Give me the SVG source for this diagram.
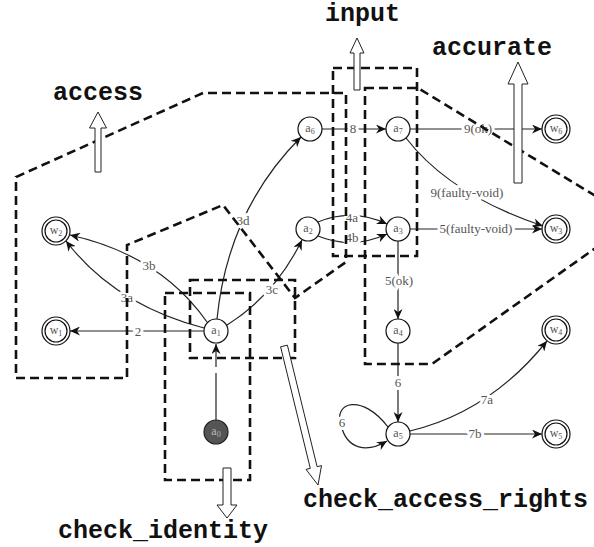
<svg xmlns="http://www.w3.org/2000/svg" width="594" height="547" viewBox="0 0 594 547">
<style>
.node{fill:#fff;stroke:#111;stroke-width:1.2}
.start{fill:#555;stroke:#222;stroke-width:1.2}
.nl{font-family:"Liberation Serif",serif;font-size:12px;fill:#555;text-anchor:middle}
.nls{fill:#bbb}
.edge{fill:none;stroke:#222;stroke-width:1.2}
.el{font-family:"Liberation Serif",serif;font-size:13px;fill:#555;text-anchor:middle;stroke:#fff;stroke-width:6;stroke-linejoin:round;paint-order:stroke}
.region{fill:none;stroke:#111;stroke-width:2.6;stroke-dasharray:9 5}
.hollow{fill:#fff;stroke:#222;stroke-width:1}
.title{font-family:"Liberation Mono","Courier New",monospace;font-weight:bold;font-size:25px;fill:#111}
</style>
<defs>
<marker id="arr" markerUnits="userSpaceOnUse" markerWidth="11" markerHeight="9" refX="10" refY="4.5" orient="auto">
<path d="M0,0 L10,4.5 L0,9 L3,4.5 Z" fill="#111"/>
</marker>
</defs>

<g id="connectors">
<path class="edge" d="M216,420 L216,373" />
<path class="edge" d="M216,367 L216,344" marker-end="url(#arr)"/>
<path class="edge" d="M204,331 L70,331" marker-end="url(#arr)"/>
<text class="el" x="138" y="336">2</text>
<path class="edge" d="M204,328 Q115,305 66,241" marker-end="url(#arr)"/>
<text class="el" x="127" y="302">3a</text>
<path class="edge" d="M207,322 Q160,255 70,235" marker-end="url(#arr)"/>
<text class="el" x="149" y="270">3b</text>
<path class="edge" d="M227,325 Q275,295 302,240" marker-end="url(#arr)"/>
<text class="el" x="272" y="294">3c</text>
<path class="edge" d="M217,319 Q228,210 301,137" marker-end="url(#arr)"/>
<text class="el" x="243" y="225">3d</text>
<path class="edge" d="M322,129 L386,129" marker-end="url(#arr)"/>
<text class="el" x="353" y="133">8</text>
<path class="edge" d="M410,129 L542,129" marker-end="url(#arr)"/>
<text class="el" x="478" y="133">9(ok)</text>
<path class="edge" d="M406,138 Q450,195 543,226" marker-end="url(#arr)"/>
<text class="el" x="467" y="197">9(faulty-void)</text>
<path class="edge" d="M318,222 Q352,208 387,224" marker-end="url(#arr)"/>
<text class="el" x="352" y="222">4a</text>
<path class="edge" d="M318,236 Q352,250 387,234" marker-end="url(#arr)"/>
<text class="el" x="352" y="242">4b</text>
<path class="edge" d="M410,229 L542,229" marker-end="url(#arr)"/>
<text class="el" x="476" y="233">5(faulty-void)</text>
<path class="edge" d="M398,241 L398,319" marker-end="url(#arr)"/>
<text class="el" x="399" y="285">5(ok)</text>
<path class="edge" d="M398,343 L398,422" marker-end="url(#arr)"/>
<text class="el" x="398" y="387">6</text>
<path class="edge" d="M388,427 C362,393 333,402 341,425 C347,450 367,453 387,441" marker-end="url(#arr)"/>
<text class="el" x="342" y="427">6</text>
<path class="edge" d="M410,431 Q490,412 547,341" marker-end="url(#arr)"/>
<text class="el" x="487" y="404">7a</text>
<path class="edge" d="M410,434 L542,434" marker-end="url(#arr)"/>
<text class="el" x="475" y="438">7b</text>
</g>

<g id="a0"><circle class="start" cx="216" cy="432" r="12"/><text class="nl nls" x="216" y="435">a<tspan font-size="8" dy="2">0</tspan></text></g>
<g id="a1"><circle class="node" cx="216" cy="331" r="12"/><text class="nl" x="216" y="334">a<tspan font-size="8" dy="2">1</tspan></text></g>
<g id="a2"><circle class="node" cx="308" cy="229" r="12"/><text class="nl" x="308" y="232">a<tspan font-size="8" dy="2">2</tspan></text></g>
<g id="a3"><circle class="node" cx="398" cy="229" r="12"/><text class="nl" x="398" y="232">a<tspan font-size="8" dy="2">3</tspan></text></g>
<g id="a4"><circle class="node" cx="398" cy="331" r="12"/><text class="nl" x="398" y="334">a<tspan font-size="8" dy="2">4</tspan></text></g>
<g id="a5"><circle class="node" cx="398" cy="434" r="12"/><text class="nl" x="398" y="437">a<tspan font-size="8" dy="2">5</tspan></text></g>
<g id="a6"><circle class="node" cx="310" cy="129" r="12"/><text class="nl" x="310" y="132">a<tspan font-size="8" dy="2">6</tspan></text></g>
<g id="a7"><circle class="node" cx="398" cy="129" r="12"/><text class="nl" x="398" y="132">a<tspan font-size="8" dy="2">7</tspan></text></g>
<g id="w1"><circle class="node" cx="56" cy="331" r="14"/><circle class="node" cx="56" cy="331" r="11"/><text class="nl" x="56" y="334">w<tspan font-size="8" dy="2">1</tspan></text></g>
<g id="w2"><circle class="node" cx="56" cy="231" r="14"/><circle class="node" cx="56" cy="231" r="11"/><text class="nl" x="56" y="234">w<tspan font-size="8" dy="2">2</tspan></text></g>
<g id="w3"><circle class="node" cx="556" cy="229" r="14"/><circle class="node" cx="556" cy="229" r="11"/><text class="nl" x="556" y="232">w<tspan font-size="8" dy="2">3</tspan></text></g>
<g id="w4"><circle class="node" cx="556" cy="330" r="14"/><circle class="node" cx="556" cy="330" r="11"/><text class="nl" x="556" y="333">w<tspan font-size="8" dy="2">4</tspan></text></g>
<g id="w5"><circle class="node" cx="556" cy="434" r="14"/><circle class="node" cx="556" cy="434" r="11"/><text class="nl" x="556" y="437">w<tspan font-size="8" dy="2">5</tspan></text></g>
<g id="w6"><circle class="node" cx="556" cy="129" r="14"/><circle class="node" cx="556" cy="129" r="11"/><text class="nl" x="556" y="132">w<tspan font-size="8" dy="2">6</tspan></text></g>

<g id="regions">
<path class="region" d="M16,177 L203,93 L346,93 L346,262 L295,298 L223,205 L127,245 L127,378 L16,378 Z"/>
<rect class="region" x="333" y="68" width="84" height="188"/>
<path class="region" d="M365,88 L418,88 L635,220 L432,364 L365,364 Z"/>
<rect class="region" x="165" y="293" width="85" height="187"/>
<rect class="region" x="190" y="280" width="105" height="78"/>
</g>

<g id="labels">
<path class="hollow" d="M95,172 L95,128 L89.5,128 L98,112 L106.5,128 L101,128 L101,172 Z"/>
<text class="title" x="98" y="100" text-anchor="middle">access</text>
<path class="hollow" d="M354,90 L354,53 L350,53 L357,38 L364,53 L360,53 L360,90 Z"/>
<text class="title" x="325" y="21">input</text>
<path class="hollow" d="M514,183 L514,84 L508,84 L518,62 L528,84 L522,84 L522,183 Z"/>
<text class="title" x="432" y="55">accurate</text>
<path class="hollow" d="M223,468 L223,505 L217,505 L227,518 L237,505 L231,505 L231,468 Z"/>
<text class="title" x="58" y="538">check_identity</text>
<path class="hollow" d="M287.4,345.2 L317.1,466.7 L321.5,465.6 L318,485 L306,469.4 L310.3,468.4 L280.6,346.8 Z"/>
<text class="title" x="303" y="507">check_access_rights</text>
</g>
</svg>
